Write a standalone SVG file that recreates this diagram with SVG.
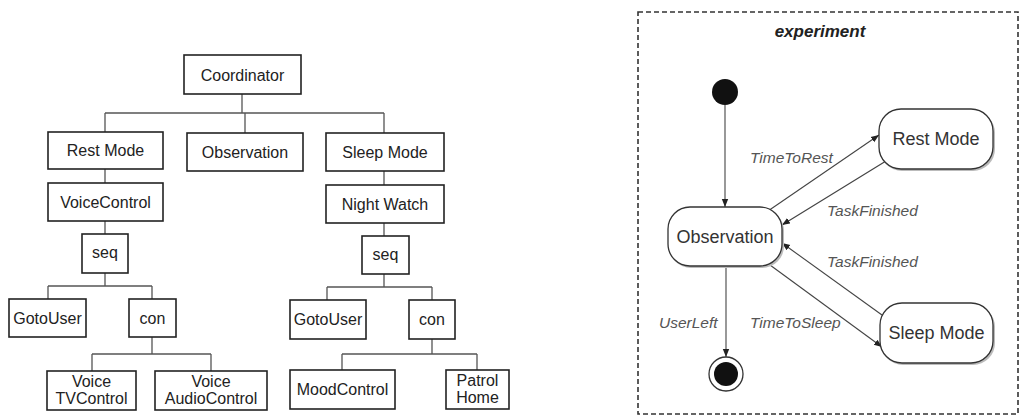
<svg xmlns="http://www.w3.org/2000/svg" width="1022" height="417" viewBox="0 0 1022 417">
<defs>
<style>
.box{fill:#fff;stroke:#222;stroke-width:1.6}
.t{font-family:"Liberation Sans",Arial,sans-serif;font-size:16px;fill:#222;text-anchor:middle}
.ln{fill:none;stroke:#555;stroke-width:1.3}
.st{fill:#fff;stroke:#333;stroke-width:1.3}
.sh{fill:#bbb;stroke:none}
.sn{font-family:"Liberation Sans",Arial,sans-serif;font-size:18px;fill:#333;text-anchor:middle}
.lb{font-family:"Liberation Sans",Arial,sans-serif;font-size:15.5px;font-style:italic;fill:#555}
.ar{fill:none;stroke:#444;stroke-width:1.1;marker-end:url(#ah)}
</style>
<marker id="ah" viewBox="0 0 10 10" refX="10" refY="5" markerWidth="8" markerHeight="8" markerUnits="userSpaceOnUse" orient="auto">
<path d="M0,1 L10,5 L0,9 z" fill="#222"/>
</marker>
</defs>
<rect width="1022" height="417" fill="#fff"/>

<g id="tree-connectors">
<path class="ln" d="M242,94 V113 M105,113 H384 M105,113 V132 M245,113 V133 M384,113 V133"/>
<path class="ln" d="M105,169 V183 M105,221 V234 M105,273 V286 M48,286 H152 M48,286 V299 M152,286 V299 M152,337 V354 M92,354 H211 M92,354 V371 M211,354 V371"/>
<path class="ln" d="M384,171 V185 M384,223 V236 M384,274 V287 M327,287 H432 M327,287 V300 M432,287 V300 M432,339 V354 M342,354 H477 M342,354 V370 M477,354 V370"/>
</g>

<g id="coordinator"><rect class="box" x="184" y="55" width="117" height="39"/><text class="t" x="242.5" y="80.5">Coordinator</text></g>
<g id="rest-mode"><rect class="box" x="48" y="132" width="115" height="37"/><text class="t" x="105.5" y="156">Rest Mode</text></g>
<g id="observation"><rect class="box" x="187" y="133" width="116" height="38"/><text class="t" x="245" y="157.5">Observation</text></g>
<g id="sleep-mode"><rect class="box" x="326" y="133" width="118" height="38"/><text class="t" x="385" y="157.5">Sleep Mode</text></g>
<g id="voice-control"><rect class="box" x="48" y="183" width="115" height="38"/><text class="t" x="105.5" y="207.5">VoiceControl</text></g>
<g id="night-watch"><rect class="box" x="326" y="185" width="118" height="38"/><text class="t" x="385" y="209.5">Night Watch</text></g>
<g id="seq-left"><rect class="box" x="82" y="234" width="46" height="39"/><text class="t" x="105" y="258">seq</text></g>
<g id="seq-right"><rect class="box" x="362" y="236" width="47" height="38"/><text class="t" x="385.5" y="260">seq</text></g>
<g id="gotouser-left"><rect class="box" x="9" y="299" width="77" height="38"/><text class="t" x="47.5" y="323.5">GotoUser</text></g>
<g id="con-left"><rect class="box" x="129" y="299" width="47" height="38"/><text class="t" x="152.5" y="323.5">con</text></g>
<g id="gotouser-right"><rect class="box" x="290" y="300" width="76" height="39"/><text class="t" x="328" y="325">GotoUser</text></g>
<g id="con-right"><rect class="box" x="409" y="300" width="46" height="39"/><text class="t" x="432" y="325">con</text></g>
<g id="voice-tvcontrol"><rect class="box" x="47" y="371" width="89" height="39"/><text class="t" x="91.5" y="387">Voice</text><text class="t" x="91.5" y="404">TVControl</text></g>
<g id="voice-audiocontrol"><rect class="box" x="155" y="371" width="112" height="39"/><text class="t" x="211" y="387">Voice</text><text class="t" x="211" y="404">AudioControl</text></g>
<g id="mood-control"><rect class="box" x="290" y="370" width="105" height="39"/><text class="t" x="342.5" y="395">MoodControl</text></g>
<g id="patrol-home"><rect class="box" x="446" y="370" width="63" height="39"/><text class="t" x="477.5" y="386">Patrol</text><text class="t" x="477.5" y="403">Home</text></g>

<g id="experiment-frame">
<rect x="638" y="12" width="380" height="402" fill="none" stroke="#333" stroke-width="1.6" stroke-dasharray="5,3"/>
<text x="820" y="37" font-family="'Liberation Sans',Arial,sans-serif" font-size="17" font-weight="bold" font-style="italic" fill="#222" text-anchor="middle">experiment</text>
</g>

<g id="state-connectors">
<path class="ar" d="M725,105 V207"/>
<path class="ar" d="M768,211 L879,135"/>
<path class="ar" d="M886,161 L782,225"/>
<path class="ar" d="M882,315 L782,243"/>
<path class="ar" d="M770,265 L882,347"/>
<path class="ar" d="M726,266 V357"/>
<text class="lb" x="750" y="163">TimeToRest</text>
<text class="lb" x="827" y="216">TaskFinished</text>
<text class="lb" x="827" y="267">TaskFinished</text>
<text class="lb" x="750" y="328">TimeToSleep</text>
<text class="lb" x="659" y="328">UserLeft</text>
</g>

<g id="initial"><circle cx="725" cy="92" r="13" fill="#111"/></g>
<g id="state-observation"><rect class="sh" x="669" y="209" width="115" height="59" rx="22"/><rect class="st" x="668" y="207" width="114" height="59" rx="22"/><text class="sn" x="725" y="243">Observation</text></g>
<g id="state-rest-mode"><rect class="sh" x="880" y="111" width="115" height="60" rx="22"/><rect class="st" x="879" y="109" width="114" height="60" rx="22"/><text class="sn" x="936" y="145">Rest Mode</text></g>
<g id="state-sleep-mode"><rect class="sh" x="881" y="305" width="114" height="60" rx="22"/><rect class="st" x="880" y="303" width="113" height="60" rx="22"/><text class="sn" x="936.5" y="339">Sleep Mode</text></g>
<g id="final"><circle cx="726" cy="374" r="17" fill="#fff" stroke="#333" stroke-width="1.3"/><circle cx="726" cy="374" r="12" fill="#111"/></g>
</svg>
